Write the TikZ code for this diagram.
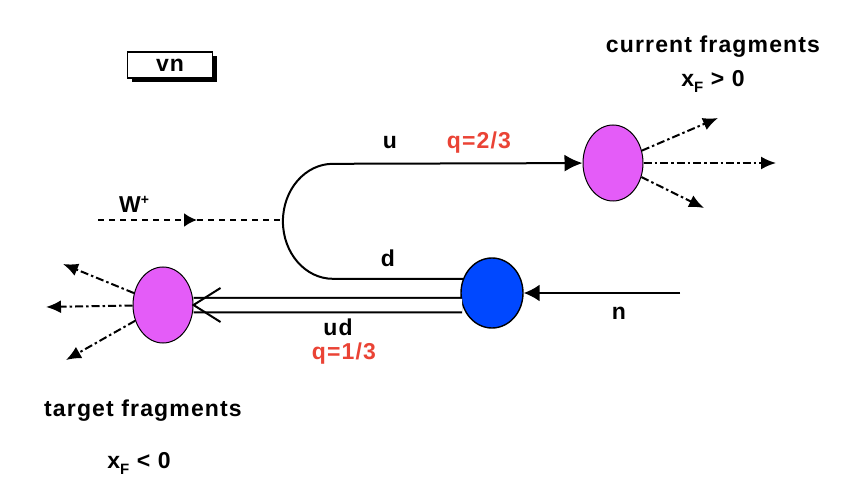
\documentclass[tikz,border=0pt]{standalone}
\usepackage{fontspec}
\setmainfont{Liberation Sans}
\newfontfamily\lblfont[LetterSpace=5]{Liberation Sans}
\usetikzlibrary{arrows.meta, shapes.geometric, shadows, calc}

\definecolor{fragviolet}{RGB}{228,92,248}
\definecolor{nucblue}{RGB}{0,72,255}
\definecolor{chargered}{RGB}{234,67,53}

% bold labels, subscript and superscript
\newcommand{\lbl}[1]{{\lblfont\bfseries\fontsize{23}{26}\selectfont #1}}
\newcommand{\lowsub}[1]{\raisebox{-6pt}{\fontsize{15}{15}\selectfont #1}}
\newcommand{\highsup}[1]{\raisebox{8pt}{\fontsize{14}{14}\selectfont #1}}

\begin{document}
\begin{tikzpicture}[x=1pt, y=-1pt,
    frag/.style={ellipse, draw=black, line width=1pt, fill=fragviolet,
      inner sep=0pt, minimum width=60pt, minimum height=76pt},
    jet/.style={line width=2pt, dash pattern=on 8pt off 3pt on 2.5pt off 3pt,
      -{Latex[length=15pt, width=13pt]}},
    quark/.style={line width=2pt}
  ]
  \useasboundingbox (0,0) rectangle (861,494);

  % 1. the vn box with its shadow
  \node [draw=black, line width=1.3pt, fill=white, minimum width=85pt,
    minimum height=26pt, inner sep=0pt,
    drop shadow={shadow xshift=4pt, shadow yshift=-4pt, fill=black, opacity=1}
    ] (vn) at (170,65) {\lbl{vn}};

  % 2. the three blobs
  \node [frag] (cf) at (613,163) {};
  \node [frag] (tf) at (163,305) {};
  \node [ellipse, draw=black, line width=1.4pt, fill=nucblue, inner sep=0pt,
    minimum width=62pt, minimum height=70pt] (nuc) at (492,293) {};

  % 3. fragments flying off
  \coordinate (c1) at (718,118);
  \coordinate (c2) at (776,163);
  \coordinate (c3) at (704,208);
  \coordinate (t1) at (63,264);
  \coordinate (t2) at (46,307);
  \coordinate (t3) at (66,360);
  \foreach \e in {c1,c2,c3} \draw [jet] (cf) -- (\e);
  \foreach \e in {t1,t2,t3} \draw [jet] (tf) -- (\e);

  % 4. incoming neutron and W
  \coordinate (nin) at (680,293);
  \draw [quark, -{Latex[length=16pt, width=17pt]}] (nin) -- (nuc);
  \coordinate (win) at (98,220);
  \coordinate (wmid) at (197,220);
  \coordinate (turn) at (283,220);
  \draw [line width=2.4pt, dash pattern=on 6pt off 5pt,
    -{Latex[length=13pt, width=14pt]}] (win) -- (wmid);
  \draw [line width=2.4pt, dash pattern=on 6pt off 5pt] (wmid) -- (turn);

  % 5. struck quark turning round, and the diquark
  \draw [quark, -{Latex[length=18pt, width=17pt]}] (nuc.154) -- ++(-130,0)
    arc [start angle=90, end angle=270, x radius=50, y radius=57.5] -- (cf);
  \draw [line width=2pt, double distance=12.5pt] (nuc.202) -- (tf);
  \draw [line width=2pt] ($(tf.east)+(27,-17)$) -- (tf.east) -- ($(tf.east)+(27,17)$);

  % 6. labels
  \node (u) at (390,143) {\lbl{u}};
  \node [text=chargered] (q1) at (479,143) {\lbl{q=2/3}};
  \node (d) at (388,258) {\lbl{d}};
  \node (ud) at (338,327) {\lbl{ud}};
  \node [text=chargered] (q2) at (344,354) {\lbl{q=1/3}};
  \node (n) at (619,313) {\lbl{n}};
  \node (w) at (134,204) {\lbl{W\highsup{+}}};
  \node (cftext) at (713,47) {\lbl{current fragments}};
  \node (cfx) at (713,81) {\lbl{x\lowsub{F} > 0}};
  \node (tftext) at (143,411) {\lbl{target fragments}};
  \node (tfx) at (139,463) {\lbl{x\lowsub{F} < 0}};
\end{tikzpicture}
\end{document}
